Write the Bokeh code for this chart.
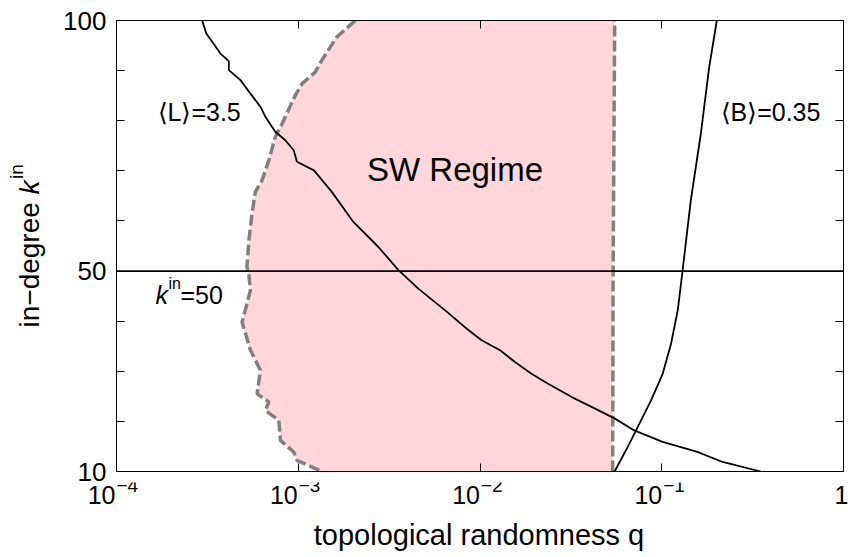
import math
from bokeh.plotting import figure
from bokeh.layouts import row, column
from bokeh.models import Range1d, FixedTicker, LinearAxis, LogAxis, Label, Span, CustomJSTickFormatter
from bokeh.embed import file_html
from bokeh.resources import INLINE

FONT = "Liberation Sans"

# ---------------- data ----------------
q_ticks = [1e-4, 1e-3, 1e-2, 1e-1, 1.0]
q_tick_base = ["10", "10", "10", "10", "1"]
q_tick_exp = ["\u22124", "\u22123", "\u22122", "\u22121", ""]
k_ticks = [10, 50, 100]
k_minor = [20, 30, 40, 60, 70, 80, 90]

# <L> = 3.5 contour
L_q = [2.96e-4, 3.12e-4, 3.37e-4, 3.73e-4, 4.15e-4, 4.15e-4, 4.81e-4, 5.46e-4, 6.19e-4,
       6.59e-4, 7.48e-4, 8.49e-4, 9.44e-4, 9.84e-4, 1.22e-3, 1.53e-3, 2.01e-3, 2.76e-3,
       3.56e-3, 4.58e-3, 5.65e-3, 6.41e-3, 8.26e-3, 1.02e-2, 1.29e-2, 1.55e-2, 1.92e-2,
       2.37e-2, 3.18e-2, 4.27e-2, 5.50e-2, 7.06e-2, 0.101, 0.157, 0.216, 0.351]
L_k = [100, 97.4, 95.7, 93.4, 91.9, 90.1, 88.1, 85.4, 82.8,
       80.8, 77.8, 76.1, 74.1, 71.8, 70.1, 65.8, 59.8, 54.8,
       50.2, 46.5, 43.8, 42.2, 38.8, 36.2, 34.2, 31.9, 29.5,
       27.5, 24.9, 22.6, 20.6, 18.2, 15.9, 13.9, 11.9, 10]

# <B> = 0.35 contour
B_q = [0.0550, 0.0650, 0.0738, 0.0873, 0.1012, 0.1125, 0.1225, 0.1303, 0.1445, 0.1641, 0.1824, 0.2009]
B_k = [10, 14.9, 18.9, 24.2, 29.5, 35.5, 42.2, 50.2, 64.1, 77.4, 90.7, 100]

# small-world regime: left boundary (top to bottom)
SWl_q = [2.06e-3, 1.63e-3, 1.35e-3, 1.24e-3, 1.05e-3, 9.64e-4, 8.15e-4, 7.48e-4, 6.89e-4,
         6.32e-4, 5.81e-4, 5.57e-4, 5.35e-4, 5.22e-4, 5.35e-4, 5.46e-4, 4.91e-4, 5.46e-4,
         6.19e-4, 5.94e-4, 6.89e-4, 6.59e-4, 7.82e-4, 7.98e-4, 9.44e-4, 9.84e-4, 1.14e-3, 1.35e-3]
SWl_k = [100, 96.7, 92.1, 89.7, 87.4, 85.1, 79.4, 76.8, 72.1,
         68.1, 65.8, 61.5, 56.1, 50.8, 49.2, 46.2, 39.8, 34.2,
         30.2, 25.5, 23.9, 22.2, 20.2, 16.2, 13.9, 12.2, 11.2, 10]
# right boundary (bottom to top)
SWr_q = [0.0537, 0.0540, 0.0551]
SWr_k = [10, 50, 100]

k_line = 50

# ---------------- geometry ----------------
W, H = 848, 557
LEFT_W = 60          # strip holding the y title
FL, FR, FT, FB = 114, 5, 20, 86   # frame borders in the whole canvas
MAIN_H = 482
BOT_H = H - MAIN_H
DEC = (W - FL - FR) / 4.0          # px per decade
SHIFT = 12                          # label baseline correction

common = dict(output_backend="svg", toolbar_location=None)

def bare(f):
    f.grid.visible = False
    f.outline_line_color = None
    f.background_fill_color = "white"
    f.border_fill_color = "white"
    f.frame_align = False

# ---------------- main plot ----------------
p = figure(width=W - LEFT_W, height=MAIN_H, x_axis_type="log",
           x_range=Range1d(q_ticks[0], q_ticks[-1]), y_range=Range1d(k_ticks[0], k_ticks[-1]),
           min_border_left=FL - LEFT_W, min_border_right=FR, min_border_top=FT,
           min_border_bottom=MAIN_H - (H - FB), **common)
p.grid.visible = False
p.outline_line_color = "black"
p.outline_line_width = 1
p.background_fill_color = "white"
p.border_fill_color = "white"
p.frame_align = False

empty = CustomJSTickFormatter(code="return ''")

def style(ax, labels=True):
    ax.major_tick_in = 8
    ax.major_tick_out = 0
    ax.minor_tick_in = 8
    ax.minor_tick_out = 0
    ax.axis_line_color = "black"
    ax.major_tick_line_color = "black"
    ax.minor_tick_line_color = "black"
    if not labels:
        ax.formatter = empty
        ax.major_label_standoff = 0

xb = p.xaxis[0]
xb.ticker = FixedTicker(ticks=q_ticks, minor_ticks=[])
style(xb, labels=False)

yl = p.yaxis[0]
yl.ticker = FixedTicker(ticks=k_ticks, minor_ticks=k_minor)
style(yl)
yl.major_label_text_font = FONT
yl.major_label_text_font_size = "26px"
yl.major_label_text_color = "black"
yl.major_label_standoff = 10

xt = LogAxis(ticker=FixedTicker(ticks=q_ticks, minor_ticks=[]))
style(xt, labels=False)
p.add_layout(xt, "above")
yr = LinearAxis(ticker=FixedTicker(ticks=k_ticks, minor_ticks=k_minor))
style(yr, labels=False)
p.add_layout(yr, "right")

p.patch(SWl_q + SWr_q, SWl_k + SWr_k, fill_color="#FFD6DA", line_color=None)
dash = dict(line_color="#808080", line_width=3.5, line_dash="11 4")
p.line(SWl_q, SWl_k, **dash)
p.line(SWr_q, SWr_k, **dash)
p.line(L_q, L_k, line_color="black", line_width=1.8)
p.line(B_q, B_k, line_color="black", line_width=1.8)
p.add_layout(Span(location=k_line, dimension="width", line_color="black", line_width=1.8))

def lab(fig, text, x, y, size, xo=0, yo=0, align="left", italic=False, angle=0.0):
    fig.add_layout(Label(x=x, y=y, x_units="data", y_units="data", x_offset=xo, y_offset=yo,
                         text=text, text_font=FONT, text_font_size=f"{size}px",
                         text_align=align, text_baseline="alphabetic", text_color="black",
                         text_font_style="italic" if italic else "normal", angle=angle))

# in-frame annotations: anchored at the frame's bottom-left corner, offsets in px
def flab(text, px, py, size, **kw):
    lab(p, text, q_ticks[0], k_ticks[0], size, xo=px - FL, yo=(H - FB) - py + SHIFT, **kw)

flab("SW Regime", 452.5, 181, 33, align="center")
flab("\u27e8L\u27e9=3.5", 155, 123, 25)
flab("\u27e8B\u27e9=0.35", 718, 123, 25)
flab("k", 153, 306, 25, italic=True)
flab("in", 166, 295, 16)
flab("=50", 178, 306, 25)

# ---------------- bottom strip: x tick labels + x title ----------------
bx0 = 10 ** (math.log10(q_ticks[0]) - (FL - LEFT_W) / DEC)
bx1 = 10 ** (math.log10(q_ticks[-1]) + FR / DEC)
b = figure(width=W - LEFT_W, height=BOT_H, x_axis_type="log",
           x_range=Range1d(bx0, bx1), y_range=Range1d(0, BOT_H),
           x_axis_location=None, y_axis_location=None,
           min_border_left=0, min_border_right=0, min_border_top=0, min_border_bottom=0, **common)
bare(b)

def blab(text, x, py, size, xo=0, **kw):
    lab(b, text, x, 0, size, xo=xo, yo=H - py + SHIFT, **kw)

for tv, base, ex in zip(q_ticks, q_tick_base, q_tick_exp):
    if ex:
        blab(base, tv, 506, 25, xo=1, align="right")
        blab(ex, tv, 497, 19, xo=2, align="left")
    else:
        blab(base, tv, 506, 25, xo=-2, align="center")

blab("topological randomness q", q_ticks[2], 546, 29, align="center")

# ---------------- left strip: y title ----------------
l = figure(width=LEFT_W, height=H, x_range=Range1d(0, LEFT_W), y_range=p.y_range,
           x_axis_location=None, y_axis_location=None,
           min_border_left=0, min_border_right=0, min_border_top=FT, min_border_bottom=FB, **common)
bare(l)
yc = (k_ticks[0] + k_ticks[-1]) / 2
base_x = 41 - SHIFT
lab(l, "in\u2212degree ", base_x, yc, 28, yo=-81.5, angle=math.pi / 2)
lab(l, "k", base_x, yc, 28, yo=51.6, italic=True, angle=math.pi / 2)
lab(l, "in", base_x - 13, yc, 19, yo=67, angle=math.pi / 2)

layout = row(l, column(p, b, spacing=0), spacing=0)
open("out.html", "w").write(file_html(layout, INLINE))
